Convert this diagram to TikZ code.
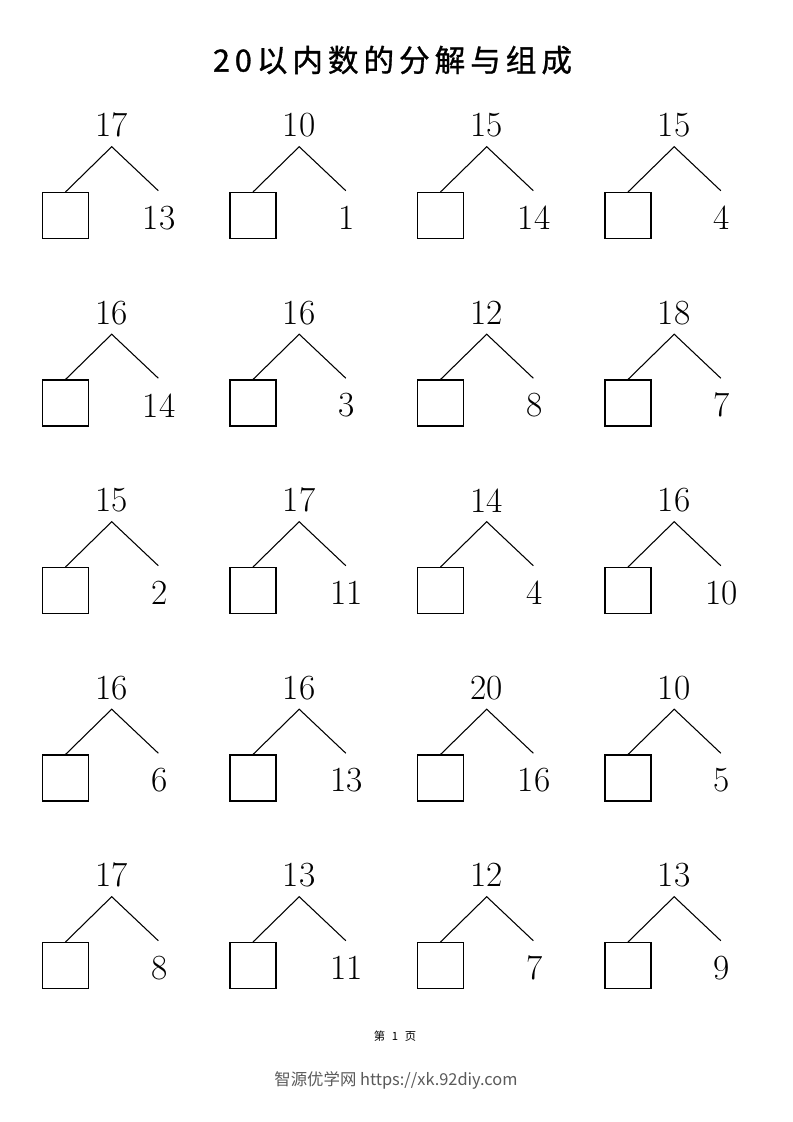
\documentclass[tikz,border=0pt]{standalone}
\usepackage{fontspec}
\newfontfamily\cjkfont{Noto Sans CJK SC}
\newfontfamily\titlefont[LetterSpace=16, FakeBold=1]{Noto Sans CJK SC}
\definecolor{wm}{HTML}{5A5A5A}
\begin{document}
\begin{tikzpicture}[x=0.75pt,y=-0.75pt,
  num/.style={font=\fontsize{26.5}{30}\selectfont, inner sep=0pt},
  ansbox/.style={draw, line width=0.8pt, minimum size=34.5pt, inner sep=0pt},
  branch/.style={line width=0.8pt}]
\useasboundingbox[fill=white] (0,0) rectangle (793,1122);
\node[font=\titlefont\fontsize{23}{27}\selectfont, inner sep=0pt] (title) at (392.5,60) {20以内数的分解与组成};
\foreach \r/\c/\t/\s [count=\i] in {
  0/0/17/13, 0/1/10/1, 0/2/15/14, 0/3/15/4,
  1/0/16/14, 1/1/16/3, 1/2/12/8, 1/3/18/7,
  2/0/15/2, 2/1/17/11, 2/2/14/4, 2/3/16/10,
  3/0/16/6, 3/1/16/13, 3/2/20/16, 3/3/10/5,
  4/0/17/8, 4/1/13/11, 4/2/12/7, 4/3/13/9} {
  \coordinate (apex\i) at ({111.7+187.5*\c},{146.7+187.5*\r});
  \path (apex\i) ++(0,-21.5) node[num] (top\i) {\t};
  \path (apex\i) ++(-46.2,68.8) node[ansbox] (box\i) {};
  \path (apex\i) ++(46.6,44) coordinate (rend\i);
  \path (apex\i) ++(47.5,71) node[num] (rn\i) {\s};
  \draw[branch] (box\i.north) -- (apex\i) -- (rend\i);
}
\node[font=\cjkfont\fontsize{8.5}{10}\selectfont, inner sep=0pt] (page) at (395,1036) {第\hspace{5pt}1\hspace{5pt}页};
\node[font=\cjkfont\fontsize{12.3}{14}\selectfont, text=wm, inner sep=0pt] (wmark) at (396,1080) {智源优学网 https://xk.92diy.com};
\end{tikzpicture}
\end{document}
